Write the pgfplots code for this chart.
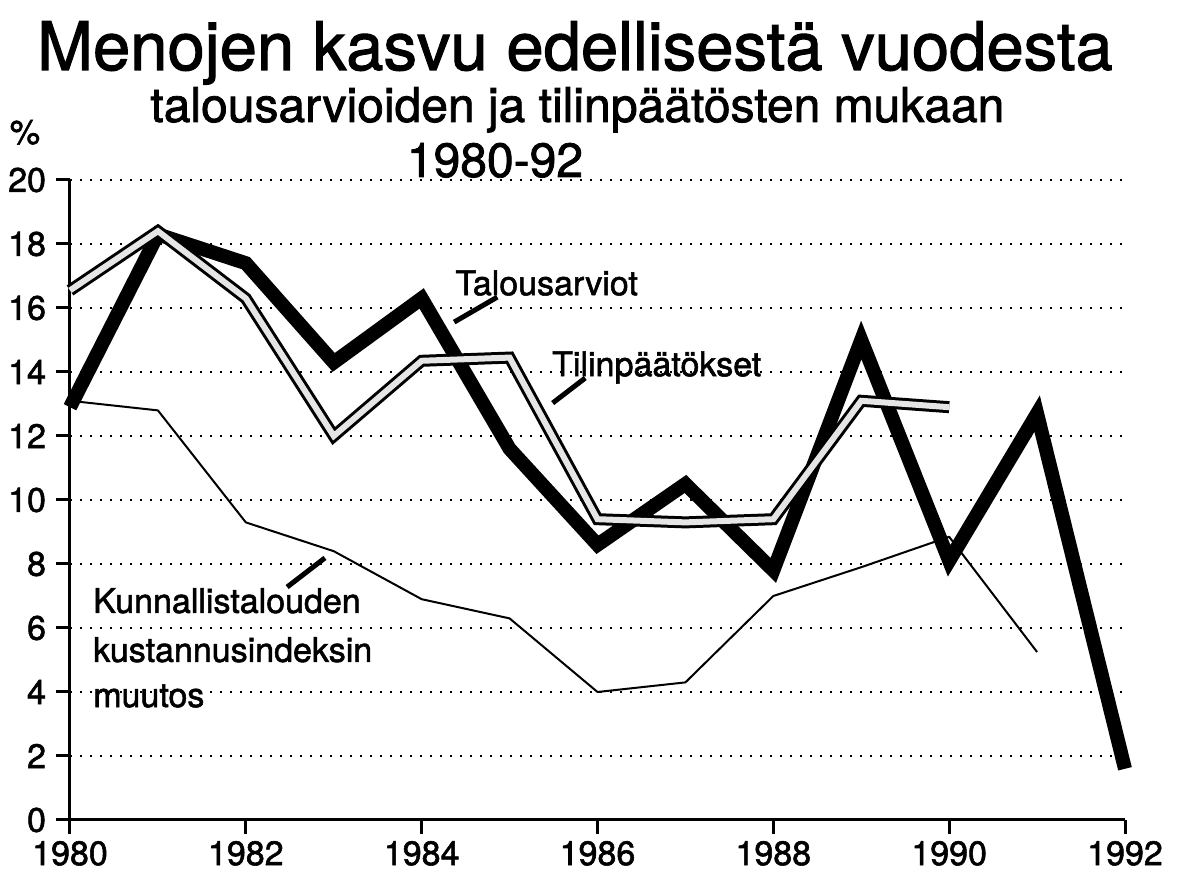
\documentclass[border=0pt]{standalone}
\usepackage{pgfplots}
\pgfplotsset{compat=1.18}
\usepackage{fontspec}
\setmainfont{TeX Gyre Heros}[RawFeature={embolden=1.6}]
\begin{document}
\begin{tikzpicture}
\path[use as bounding box] (0,0) rectangle (589.5pt,438.5pt);
\node[anchor=base,font=\fontsize{33.5}{36}\selectfont] at (287.5pt,403.5pt) {Menojen kasvu edellisestä vuodesta};
\node[anchor=base,font=\fontsize{24}{28}\selectfont] at (288.7pt,377.5pt) {talousarvioiden ja tilinpäätösten mukaan};
\node[anchor=base,font=\fontsize{24}{28}\selectfont] at (247.5pt,350pt) {1980-92};
\node[anchor=base,font=\fontsize{17}{20}\selectfont] at (12.5pt,366.5pt) {\%};
\begin{axis}[
  at={(35pt,28.5pt)}, anchor=south west,
  scale only axis, width=527.5pt, height=320pt,
  xmin=1980, xmax=1992, ymin=0, ymax=20,
  axis lines=left,
  axis line style={-, line width=1.5pt, black},
  xtick={1980,1982,...,1992},
  ytick={0,2,...,20},
  tick align=outside,
  major tick length=7pt,
  tick style={line width=1.5pt, black},
  ymajorgrids,
  grid style={line width=1pt, dash pattern=on 1pt off 4pt, black},
  /pgf/number format/assume math mode=true,
  /pgf/number format/1000 sep={},
  ticklabel style={font=\fontsize{17}{20}\selectfont},
  yticklabel style={xshift=-1.5pt},
  clip=false,
]
\addplot[black, line width=1pt, line join=round] coordinates {
(1980,13.1)(1981,12.8)(1982,9.3)(1983,8.4)(1984,6.9)(1985,6.3)(1986,4.0)(1987,4.3)(1988,7.0)(1989,7.9)(1990,8.85)(1991,5.25)};
\addplot[black, line width=7pt, line join=miter] coordinates {
(1980,12.9)(1981,18.3)(1982,17.4)(1983,14.3)(1984,16.3)(1985,11.6)(1986,8.6)(1987,10.5)(1988,7.8)(1989,15.0)(1990,8.1)(1991,12.7)(1992,1.6)};
\addplot[black, line width=6pt, line join=miter] coordinates {
(1980,16.55)(1981,18.4)(1982,16.3)(1983,12.0)(1984,14.35)(1985,14.45)(1986,9.4)(1987,9.3)(1988,9.4)(1989,13.1)(1990,12.9)};
\addplot[gray!20, line width=3pt, line join=miter] coordinates {
(1980,16.55)(1981,18.4)(1982,16.3)(1983,12.0)(1984,14.35)(1985,14.45)(1986,9.4)(1987,9.3)(1988,9.4)(1989,13.1)(1990,12.9)};
\draw[line width=2.5pt] (axis cs:1984.37,15.56) -- (axis cs:1984.86,16.34);
\draw[line width=2.5pt] (axis cs:1985.49,13.03) -- (axis cs:1985.86,13.81);
\draw[line width=2.5pt] (axis cs:1982.47,7.28) -- (axis cs:1982.90,8.19);
\node[anchor=base west,font=\fontsize{17}{20}\selectfont,inner sep=0pt] at (axis cs:1984.38,16.4) {Talousarviot};
\node[anchor=base west,font=\fontsize{17}{20}\selectfont,inner sep=0pt] at (axis cs:1985.48,13.87) {Tilinpäätökset};
\node[anchor=base west,font=\fontsize{17}{20}\selectfont,inner sep=0pt,align=left] at (axis cs:1980.26,6.47) {Kunnallistalouden};
\node[anchor=base west,font=\fontsize{17}{20}\selectfont,inner sep=0pt] at (axis cs:1980.26,4.94) {kustannusindeksin};
\node[anchor=base west,font=\fontsize{17}{20}\selectfont,inner sep=0pt] at (axis cs:1980.26,3.53) {muutos};
\end{axis}
\end{tikzpicture}
\end{document}
